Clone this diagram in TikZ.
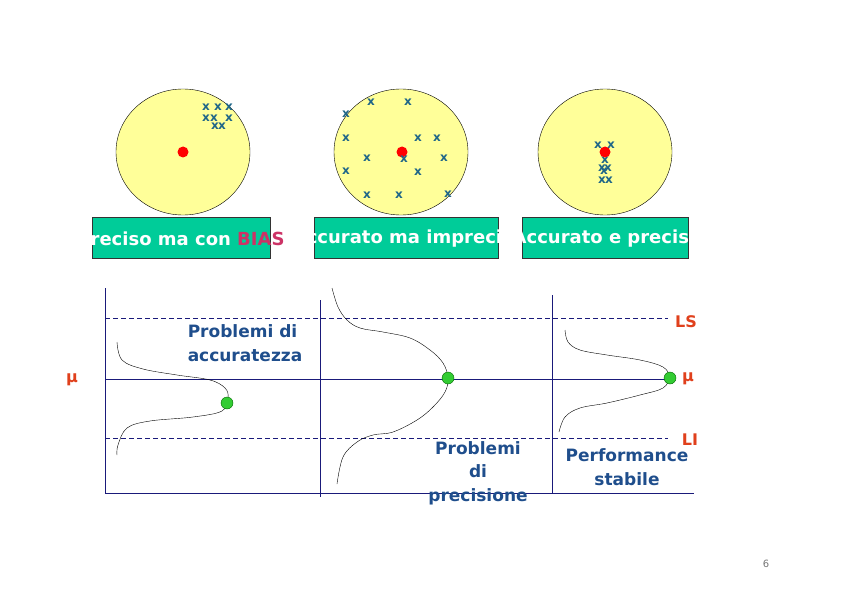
\documentclass[tikz,border=0pt]{standalone}
\usepackage{fontspec}
\setmainfont{DejaVu Sans}
\usepackage{xcolor}
\usetikzlibrary{shapes.geometric,positioning}
\definecolor{targetfill}{HTML}{FFFF99}
\definecolor{tagfill}{HTML}{00CC99}
\definecolor{biascol}{HTML}{CC3366}
\definecolor{hitcol}{HTML}{1F6688}
\definecolor{gridcol}{HTML}{1A1A7A}
\definecolor{notecol}{HTML}{1F4E8C}
\definecolor{limcol}{HTML}{E0401C}
\definecolor{dotcol}{HTML}{33CC33}

\begin{document}
\begin{tikzpicture}[x=1pt, y=-1pt, every node/.style={align=center}]
\tikzset{
  target/.style={draw=black, thin, fill=targetfill, ellipse, minimum width=134pt, minimum height=126pt, inner sep=0pt},
  bull/.style={circle, fill=red, minimum size=11pt, inner sep=0pt},
  hit/.style={text=hitcol, font=\bfseries\fontsize{12}{12}\selectfont, inner sep=0pt},
  tag/.style={draw=black!80, thin, fill=tagfill, minimum height=41pt, inner sep=0pt},
  tagtext/.style={text=white, font=\bfseries\fontsize{18}{18}\selectfont, inner sep=0pt},
  axis/.style={draw=gridcol, thin},
  limit/.style={draw=gridcol, thin, dash pattern=on 5pt off 3pt},
  bell/.style={draw=black, thin},
  meanpt/.style={circle, draw=black!60!green, fill=dotcol, minimum size=12pt, inner sep=0pt},
  note/.style={text=notecol, font=\bfseries\fontsize{17}{23.5}\selectfont, inner sep=0pt},
  lim/.style={text=limcol, font=\bfseries\fontsize{16}{16}\selectfont, inner sep=0pt}
}
\useasboundingbox (0,0) rectangle (842,596);

\node[target] (t1) at (183,152) {};
\node[target] (t2) at (401,152) {};
\node[target] (t3) at (605,152) {};
\node[bull] (b1) at (183,152) {};
\node[bull] (b2) at (402,152) {};

\foreach \p [count=\i] in {(206,107),(218,107),(229,107),(206,118),(214,118),(229,118),(215,126),(222,126)}
  \node[hit] (ha\i) at \p {x};
\foreach \p [count=\i] in {(371,102),(408,102),(346,114),(346,138),(418,138),(437,138),(367,158),(404,159),(444,158),(346,171),(418,172),(367,195),(399,195),(448,194)}
  \node[hit] (hb\i) at \p {x};
\foreach \p [count=\i] in {(598,145),(611,145),(605,160),(602,168),(608,168),(604,171),(602,180),(609,180)}
  \node[hit] (hc\i) at \p {x};
\node[bull] (b3) at (605,152) {};

\node[tag, minimum width=178pt] (g1) at (181,238) {};
\node[tag, minimum width=184pt] (g2) at (406,238) {};
\node[tag, minimum width=166pt] (g3) at (605,238) {};
\begin{scope}
  \clip (92,200) rectangle (300,270);
  \node[tagtext] (l1) at (181,239) {Preciso ma con \textcolor{biascol}{BIAS}};
\end{scope}
\begin{scope}
  \clip (314,200) rectangle (498,270);
  \node[tagtext] (l2) at (409,239) {Accurato ma impreciso};
\end{scope}
\begin{scope}
  \clip (522,200) rectangle (688,270);
  \node[tagtext] (l3) at (607,239) {Accurato e preciso};
\end{scope}

\draw[axis] (105,288) -- (105,493) -- (694,493);
\draw[axis] (320,300) -- (320,497);
\draw[axis] (552,295) -- (552,493);
\draw[limit] (105,318) -- (668,318);
\draw[limit] (105,438) -- (668,438);
\draw[axis] (105,379) -- (668,379);

\draw[bell] plot[smooth, tension=0.6] coordinates {(117,342) (122,360) (143,369) (177,375) (210,380) (225,388) (228,398) (222,411) (193,417) (150,421) (127,428) (118,445) (117,455)};
\draw[bell] plot[smooth, tension=0.6] coordinates {(332,288) (338,307) (347,320) (360,328) (383,332) (410,338) (430,350) (443,363) (448,378) (445,392) (433,407) (417,420) (393,432) (373,435) (357,442) (343,457) (337,484)};
\draw[bell] plot[smooth, tension=0.6] coordinates {(565,330) (568,342) (580,350) (607,355) (640,360) (663,367) (669,377) (663,388) (640,395) (607,403) (580,408) (565,417) (559,432)};

\node[meanpt] (m1) at (227,403) {};
\node[meanpt] (m2) at (448,378) {};
\node[meanpt] (m3) at (670,378) {};

\node[note, align=left] (n1) at (245,343) {Problemi di\\accuratezza};
\node[note] (n2) at (478,473) {Problemi\\di\\precisione};
\node[note] (n3) at (627,467) {Performance\\stabile};

\node[lim] (mu1) at (72,380) {μ};
\node[lim] (mu2) at (688,379) {μ};
\node[lim] (ls) at (686,322) {LS};
\node[lim] (li) at (690,440) {LI};

\node[text=black!55, font=\fontsize{10}{10}\selectfont] (pg) at (766,564) {6};
\end{tikzpicture}
\end{document}
